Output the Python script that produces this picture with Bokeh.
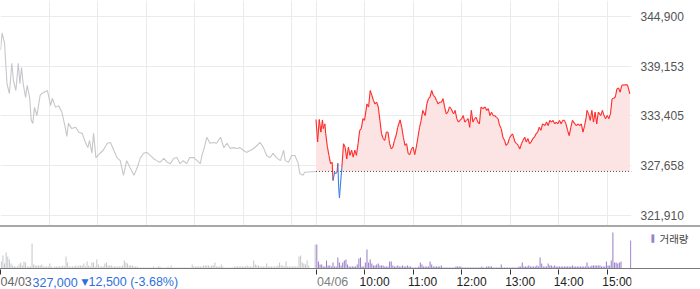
import numpy as np
from bokeh.plotting import figure
from bokeh.models import (Range1d, FixedTicker, ColumnDataSource, Label, LabelSet, LinearAxis,
                          Div, CustomJSTickFormatter, NumeralTickFormatter)
from bokeh.layouts import column
from bokeh.embed import file_html
from bokeh.resources import INLINE
from bokeh.core.properties import value

# ---------------- data ----------------
prev_date = "04/03"
cur_date = "04/06"
prev_close = 327000
prev_change = -12500
prev_change_pct = -3.68
session_minutes = 390          # 09:00 - 15:30
volume_label = "거래량"

# previous day (04/03) intraday price: minutes after 09:00, price
day1_t = [0, 2, 5, 8, 11, 14, 16, 19, 22, 24,
          26, 28, 31, 33, 36, 38, 40, 42, 45, 49,
          51, 58, 62, 64, 68, 72, 76, 80, 82, 84,
          88, 93, 97, 101, 105, 108, 110, 113, 115, 118,
          123, 127, 132, 136, 140, 144, 148, 152, 156, 160,
          165, 169, 173, 177, 181, 185, 189, 193, 197, 202,
          206, 210, 214, 218, 222, 226, 230, 234, 239, 243,
          247, 249, 252, 255, 259, 263, 267, 272, 276, 280,
          284, 288, 292, 296, 300, 304, 309, 313, 317, 321,
          325, 329, 333, 337, 341, 346, 350, 352, 356, 360,
          364, 368, 370, 374, 376, 390]
day1_p = [341000, 343000, 341800, 337150, 336000, 339500, 337500, 336350, 339500, 337150,
          339000, 337150, 335550, 336950, 335550, 332900, 332550, 334400, 333450, 335800,
          336000, 336350, 334600, 335450, 334400, 334600, 333800, 332100, 331050, 332550,
          331950, 332100, 331500, 331400, 330350, 329750, 330600, 329100, 331400, 328600,
          329100, 329450, 330250, 330350, 329450, 328600, 328250, 326550, 328250, 327450,
          326550, 327450, 328600, 329100, 329200, 328850, 328500, 328250, 328050, 328500,
          328050, 327900, 328500, 328600, 327900, 328250, 327900, 328600, 328600, 328250,
          327900, 328850, 329750, 330950, 330250, 330350, 330250, 330950, 329750, 330250,
          329650, 329750, 329650, 329750, 329450, 329200, 329450, 329650, 330000, 330350,
          329750, 328850, 328600, 329100, 328600, 328250, 329450, 328250, 328050, 328850,
          328850, 327900, 326750, 326550, 326900, 327000]

# current day (04/06) intraday price: minutes after 09:00, price
day2_t = [0, 2, 4, 6, 8, 9, 11, 12, 14, 16,
          18, 20, 21, 23, 24, 26, 27, 28, 29, 30,
          32, 34, 36, 38, 40, 42, 44, 46, 48, 50,
          52, 54, 56, 58, 60, 63, 65, 67, 69, 71,
          73, 75, 77, 79, 81, 83, 85, 87, 89, 91,
          93, 95, 97, 99, 101, 104, 106, 108, 110, 112,
          114, 116, 118, 120, 122, 124, 126, 128, 130, 132,
          135, 137, 139, 141, 143, 145, 147, 149, 151, 153,
          155, 157, 159, 161, 163, 165, 167, 170, 172, 174,
          176, 178, 180, 182, 184, 186, 188, 190, 192, 194,
          196, 198, 200, 202, 204, 206, 209, 211, 213, 215,
          217, 219, 221, 223, 225, 227, 229, 231, 233, 235,
          237, 239, 241, 243, 246, 248, 250, 252, 254, 256,
          258, 260, 262, 264, 266, 268, 270, 272, 274, 276,
          278, 280, 283, 285, 287, 289, 291, 293, 295, 297,
          299, 301, 303, 305, 307, 309, 311, 313, 315, 317,
          320, 322, 324, 326, 328, 330, 332, 334, 335, 337,
          339, 341, 343, 345, 347, 349, 352, 354, 356, 358,
          360, 362, 364, 366, 368, 370, 372, 374, 376, 378,
          381, 385, 388]
day2_p = [333000, 330400, 333000, 331550, 332950, 331950, 332500, 331350, 329900, 328850,
          327900, 328050, 325950, 326900, 326750, 326900, 327950, 325200, 323950, 325200,
          327500, 330200, 329800, 328450, 329800, 328850, 329450, 328650, 329450, 328850,
          330200, 331750, 331950, 333100, 332900, 334800, 334450, 336350, 335800, 335200,
          334800, 335000, 334450, 332900, 331350, 330800, 330600, 331550, 331550, 330200,
          329600, 329800, 330600, 331150, 332100, 332950, 332100, 330950, 330000, 330200,
          329050, 328950, 329600, 329800, 328950, 329800, 330950, 332100, 332900, 334050,
          333450, 334800, 335400, 335600, 336350, 335800, 335600, 335200, 334800, 335000,
          335000, 335400, 334450, 333650, 333850, 334450, 334250, 333650, 334050, 333100,
          332700, 332900, 333100, 333450, 332700, 332900, 333100, 332100, 334050, 332700,
          333100, 333250, 332700, 332500, 334450, 334250, 334450, 334050, 334250, 333450,
          333850, 333450, 333450, 333250, 333100, 332300, 331950, 330950, 330600, 330000,
          330200, 330800, 331150, 331350, 330400, 330200, 330000, 329600, 330200, 330600,
          330950, 330400, 330800, 330200, 330400, 330800, 330950, 331350, 331550, 332100,
          331750, 332500, 332300, 332700, 332300, 332900, 332700, 332900, 332500, 332700,
          332500, 332900, 332500, 332900, 332900, 332500, 331750, 331150, 332100, 332900,
          332500, 332300, 332500, 332300, 332500, 331550, 332300, 333250, 334050, 333650,
          332900, 334050, 332700, 333850, 332500, 333850, 333450, 334050, 333450, 333100,
          333450, 333100, 333650, 335400, 335450, 335600, 336550, 336650, 336150, 336950,
          337000, 337000, 335950]

# traded volume per 2-minute bin (thousand shares)
vol_bin = 2
vol1 = [7, 13, 5, 16, 12, 9, 5, 3, 2, 2,
        2, 4, 6, 3, 7, 6, 2, 2, 2, 25,
        4, 3, 3, 3, 3, 4, 2, 2, 2, 2,
        5, 2, 1, 2, 2, 2, 2, 2, 3, 2,
        12, 6, 2, 2, 2, 2, 3, 2, 3, 3,
        3, 5, 2, 7, 3, 2, 6, 6, 2, 9,
        4, 2, 2, 2, 5, 6, 3, 3, 3, 2,
        2, 2, 2, 2, 2, 3, 8, 6, 5, 3,
        3, 3, 2, 2, 2, 1, 1, 1, 1, 1,
        1, 1, 1, 1, 2, 1, 1, 2, 2, 1,
        1, 1, 1, 2, 1, 3, 1, 1, 1, 1,
        1, 1, 1, 1, 1, 1, 1, 1, 4, 2,
        2, 2, 2, 2, 2, 3, 3, 3, 3, 2,
        3, 3, 6, 2, 2, 2, 4, 2, 1, 1,
        1, 1, 1, 1, 2, 2, 2, 2, 2, 2,
        2, 2, 3, 2, 2, 2, 8, 4, 3, 3,
        2, 2, 2, 2, 5, 2, 2, 2, 2, 2,
        2, 3, 6, 3, 3, 2, 7, 2, 2, 2,
        2, 2, 2, 2, 12, 13, 6, 5, 4, 8,
        3, 0, 0, 0, 24]
vol2 = [24, 7, 4, 4, 2, 2, 8, 3, 3, 2,
        6, 2, 2, 11, 6, 3, 6, 8, 9, 4,
        2, 2, 2, 2, 2, 4, 10, 11, 2, 2,
        6, 19, 6, 9, 5, 3, 3, 4, 5, 3,
        3, 3, 2, 2, 2, 7, 7, 3, 2, 2,
        3, 2, 2, 3, 2, 2, 3, 2, 2, 1,
        1, 1, 1, 2, 6, 4, 2, 2, 2, 2,
        7, 4, 2, 2, 2, 2, 2, 3, 1, 1,
        1, 1, 1, 1, 1, 1, 2, 2, 2, 2,
        1, 1, 1, 1, 1, 1, 1, 1, 1, 1,
        1, 1, 2, 1, 1, 2, 2, 2, 2, 1,
        1, 1, 1, 1, 4, 1, 1, 1, 1, 1,
        1, 1, 1, 1, 1, 2, 2, 6, 2, 2,
        2, 3, 2, 2, 2, 2, 3, 2, 11, 5,
        2, 2, 2, 5, 3, 3, 2, 3, 2, 2,
        2, 2, 2, 2, 2, 2, 2, 2, 3, 2,
        2, 2, 2, 2, 2, 2, 2, 6, 2, 2,
        3, 3, 3, 3, 3, 3, 2, 2, 2, 7,
        3, 3, 8, 36, 6, 6, 5, 6, 7, 0,
        0, 0, 0, 0, 28]

y_ticks = [321910, 327657.5, 333405, 339152.5, 344900]
grid_hours = [60, 120, 180, 240, 300, 360, 390, 450, 510, 570, 630, 690, 750]
hour_ticks = [450, 510, 570, 630, 690, 750]
hour_labels = ["10:00", "11:00", "12:00", "13:00", "14:00", "15:00"]
axis_ticks = [0, 390, 450, 510, 570, 630, 690, 750]

# ---------------- styling constants ----------------
RED = "#ff2b2b"
BLUE = "#3a82e4"
PINK = "#fde4e4"
GRAY_LINE = "#c5c7cb"
PURPLE = "#9c80cc"
INFO_BLUE = "#2f6fdc"
FONT = "Liberation Sans"

x_total = 2 * session_minutes
y_lo, y_hi = 320755, 346748
xr = Range1d(0, x_total)

common = dict(width=700, output_backend="svg", toolbar_location=None, x_range=xr,
              min_border_left=0, min_border_right=69, min_border_top=0, min_border_bottom=0)

# ---------------- price panel ----------------
p = figure(height=225, y_range=Range1d(y_lo, y_hi),
           x_axis_location=None, y_axis_location="right", **common)
p.outline_line_color = None

p.yaxis.ticker = FixedTicker(ticks=y_ticks)
p.yaxis.formatter = NumeralTickFormatter(format="0,0")
p.yaxis.axis_line_color = None
p.yaxis.major_tick_line_color = None
p.yaxis.minor_tick_line_color = None
p.yaxis.major_tick_out = 0
p.yaxis.major_tick_in = 0
p.yaxis.major_label_standoff = 9
p.yaxis.major_label_text_font = FONT
p.yaxis.major_label_text_font_size = "12px"
p.yaxis.major_label_text_color = "#555555"

p.xgrid.ticker = FixedTicker(ticks=grid_hours)
p.xgrid.grid_line_color = "#ebebeb"
p.ygrid.grid_line_color = "#ebebeb"

t1 = np.array(day1_t, dtype=float)
t2 = session_minutes + np.array(day2_t, dtype=float)
p2 = np.array(day2_p, dtype=float)

# pink area between previous close and today's price (above only)
p.varea(x=t2, y1=np.full_like(p2, prev_close), y2=np.maximum(p2, prev_close),
        fill_color=PINK, fill_alpha=1)

# dotted reference line at previous close
p.line(x=[session_minutes, x_total], y=[prev_close, prev_close],
       line_color="#555555", line_dash="1 2", line_width=1)

# previous day
p.line(x=t1, y=day1_p, line_color=GRAY_LINE, line_width=1.1)

# today, red above previous close and blue below
mid = (p2[:-1] + p2[1:]) / 2
seg = ColumnDataSource(dict(x0=t2[:-1], x1=t2[1:], y0=p2[:-1], y1=p2[1:],
                            c=[RED if m >= prev_close else BLUE for m in mid]))
p.segment(x0="x0", y0="y0", x1="x1", y1="y1", line_color="c", line_width=1.1, source=seg)

# ---------------- separator ----------------
sep = Div(width=700, height=2, margin=0, styles={"background-color": "#a8a8a8"})

# ---------------- volume panel ----------------
v = figure(height=41, y_range=Range1d(0, 41000),
           x_axis_location=None, y_axis_location=None, **common)
v.outline_line_color = None
v.xgrid.visible = False
v.ygrid.visible = False

vt1 = np.arange(len(vol1)) * vol_bin + vol_bin / 2
vt2 = session_minutes + np.arange(len(vol2)) * vol_bin + vol_bin / 2
src1 = ColumnDataSource(dict(t=vt1, vol=np.array(vol1) * 1000))
src2 = ColumnDataSource(dict(t=vt2, vol=np.array(vol2) * 1000))
v.vbar(x="t", top="vol", width=1.3, source=src1, fill_color="#c6c8cc", line_color=None)
v.vbar(x="t", top="vol", width=1.3, source=src2, fill_color=PURPLE, line_color=None)

# volume key, drawn as two right-side axis labels (swatch, then caption)
key_y = 29700


def key_axis(text, color, font, size, standoff):
    a = LinearAxis(ticker=FixedTicker(ticks=[key_y]), major_label_overrides={key_y: text})
    a.axis_line_color = None
    a.major_tick_line_color = None
    a.minor_tick_line_color = None
    a.major_tick_out = 0
    a.major_tick_in = 0
    a.major_label_standoff = standoff
    a.major_label_text_color = color
    a.major_label_text_font = font
    a.major_label_text_font_size = size
    return a


v.add_layout(key_axis("▌", PURPLE, "DejaVu Sans", "7px", 20), "right")
v.add_layout(key_axis(volume_label, "#444444", "Noto Sans CJK KR", "10.5px", 0), "right")

# ---------------- volume baseline ----------------
base = Div(width=700, height=1, margin=0, styles={"background-color": "#7a7a7a"})

# ---------------- time axis ----------------
ax = figure(height=20, y_range=Range1d(0, 1),
            x_axis_location="above", y_axis_location=None, **common)
ax.outline_line_color = None
ax.xgrid.visible = False
ax.ygrid.visible = False
ax.xaxis.ticker = FixedTicker(ticks=axis_ticks)
ax.xaxis.formatter = CustomJSTickFormatter(code="return ''")
ax.xaxis.major_label_text_font_size = "0px"
ax.xaxis.major_label_standoff = 0
ax.xaxis.axis_line_color = None
ax.xaxis.major_tick_line_color = "#333333"
ax.xaxis.major_tick_out = 0
ax.xaxis.major_tick_in = 5
ax.xaxis.minor_tick_line_color = None

LY = 7.5
lab_src = ColumnDataSource(dict(x=hour_ticks, text=hour_labels))
ax.add_layout(LabelSet(x="x", y=LY, y_units="screen", text="text", source=lab_src,
                       x_offset=-5, text_align="left", text_baseline="middle",
                       text_font=value(FONT), text_font_size="12px", text_color="#222222"))
ax.add_layout(Label(x=session_minutes, y=LY, y_units="screen", text=cur_date, x_offset=1,
                    text_align="left", text_baseline="middle", text_font=FONT,
                    text_font_size="12.5px", text_color="#808080"))
ax.add_layout(Label(x=0, y=LY, y_units="screen", text=prev_date,
                    text_align="left", text_baseline="middle", text_font=FONT,
                    text_font_size="12.5px", text_color="#666666"))
ax.add_layout(Label(x=32, x_units="screen", y=LY, y_units="screen", text=f"{prev_close:,}",
                    text_align="left", text_baseline="middle", text_font=FONT,
                    text_font_size="12.5px", text_color=INFO_BLUE))
ax.add_layout(Label(x=81, x_units="screen", y=LY, y_units="screen",
                    text="▼" if prev_change < 0 else "▲",
                    text_align="left", text_baseline="middle", text_font="DejaVu Sans",
                    text_font_size="9px", text_color=INFO_BLUE))
ax.add_layout(Label(x=88, x_units="screen", y=LY, y_units="screen",
                    text=f"{abs(prev_change):,} ({prev_change_pct:.2f}%)",
                    text_align="left", text_baseline="middle", text_font=FONT,
                    text_font_size="12.5px", text_color=INFO_BLUE))

layout = column(p, sep, v, base, ax, spacing=0)
open("out.html", "w").write(file_html(layout, INLINE))
